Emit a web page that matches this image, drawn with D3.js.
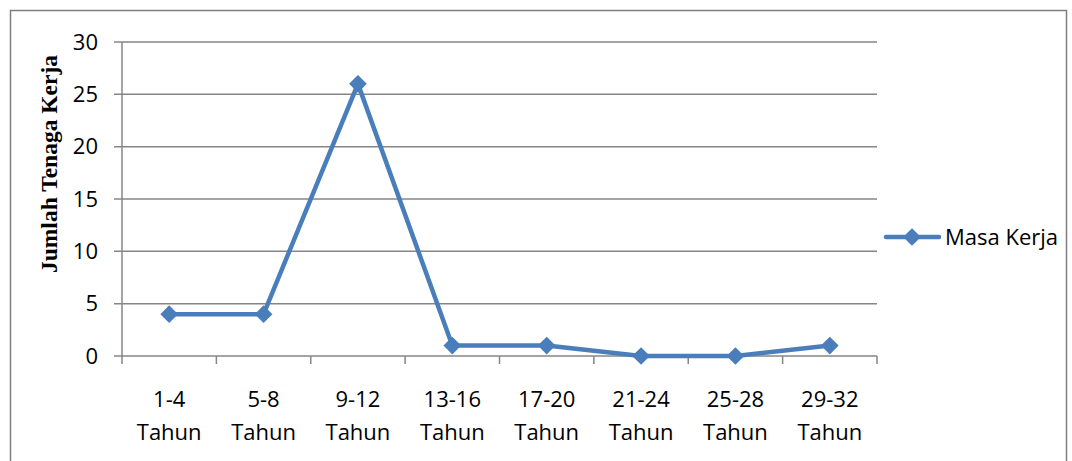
<!DOCTYPE html>
<html>
<head>
<meta charset="utf-8">
<script src="https://cdn.jsdelivr.net/npm/d3@7"></script>
<style>
  html, body { margin: 0; padding: 0; background: #fff; }
  svg { display: block; }
</style>
</head>
<body>
<svg id="chart" width="1072" height="461"></svg>
<script>
// Work-period categories (two-line labels) and the number of workers in each
const categories = ["1-4 Tahun", "5-8 Tahun", "9-12 Tahun", "13-16 Tahun", "17-20 Tahun", "21-24 Tahun", "25-28 Tahun", "29-32 Tahun"];
const values = [4, 4, 26, 1, 1, 0, 0, 1];
const yTicks = [0, 5, 10, 15, 20, 25, 30];
const seriesName = "Masa Kerja";
const yTitle = "Jumlah Tenaga Kerja";

const svg = d3.select("#chart");
const plot = { left: 122, right: 877, top: 42, bottom: 356 };
const lineColor = "#4a7ebb";
const gridColor = "#868686";
const labelFont = "'Open Sans', 'Noto Sans', sans-serif";
const labelSize = 22;

// Outer chart frame
svg.append("rect")
  .attr("x", 10.5).attr("y", 10.5)
  .attr("width", 1056).attr("height", 470)
  .attr("fill", "#fff").attr("stroke", "#7f7f7f").attr("stroke-width", 1.5);

const x = d3.scaleBand().domain(categories).range([plot.left, plot.right]).padding(0);
const y = d3.scaleLinear().domain([0, 30]).range([plot.bottom, plot.top]);

// Horizontal gridlines
svg.append("g").selectAll("line").data(yTicks).join("line")
  .attr("x1", plot.left - 8).attr("x2", plot.right)
  .attr("y1", d => y(d)).attr("y2", d => y(d))
  .attr("stroke", gridColor).attr("stroke-width", 1.5);

// Y axis line
svg.append("line")
  .attr("x1", plot.left).attr("x2", plot.left)
  .attr("y1", plot.top).attr("y2", plot.bottom)
  .attr("stroke", gridColor).attr("stroke-width", 1.5);

// Y tick labels
svg.append("g").selectAll("text").data(yTicks).join("text")
  .attr("x", 98).attr("y", d => y(d))
  .attr("dy", "0.35em")
  .attr("text-anchor", "end")
  .attr("font-family", labelFont).attr("font-size", labelSize)
  .attr("fill", "#000")
  .text(d => d);

// X category tick marks at band boundaries
const bounds = categories.map(c => x(c)).concat([plot.right]);
svg.append("g").selectAll("line").data(bounds).join("line")
  .attr("x1", d => d).attr("x2", d => d)
  .attr("y1", plot.bottom).attr("y2", plot.bottom + 8)
  .attr("stroke", gridColor).attr("stroke-width", 1.5);

// X category labels, split on the space into two lines
const xl = svg.append("g").selectAll("text").data(categories).join("text")
  .attr("text-anchor", "middle")
  .attr("font-family", labelFont).attr("font-size", labelSize)
  .attr("fill", "#000");
xl.each(function(d) {
  const parts = d.split(" ");
  const cx = x(d) + x.bandwidth() / 2;
  d3.select(this).selectAll("tspan").data(parts).join("tspan")
    .attr("x", cx)
    .attr("y", (p, i) => 407 + i * 33)
    .text(p => p);
});

// Y axis title
svg.append("text")
  .attr("transform", `translate(57,164) rotate(-90)`)
  .attr("text-anchor", "middle")
  .attr("font-family", "'Liberation Serif', 'DejaVu Serif', serif")
  .attr("font-weight", "bold").attr("font-size", 23.5)
  .attr("fill", "#000")
  .text(yTitle);

// Series line
const line = d3.line()
  .x((d, i) => x(categories[i]) + x.bandwidth() / 2)
  .y(d => y(d));
svg.append("path")
  .datum(values)
  .attr("d", line)
  .attr("fill", "none")
  .attr("stroke", lineColor).attr("stroke-width", 4.5)
  .attr("stroke-linejoin", "round").attr("stroke-linecap", "round");

// Diamond markers
const diamond = d3.symbol().type(d3.symbolDiamond2).size(200);
svg.append("g").selectAll("path").data(values).join("path")
  .attr("transform", (d, i) => `translate(${x(categories[i]) + x.bandwidth() / 2},${y(d)})`)
  .attr("d", diamond)
  .attr("fill", lineColor);

// Legend
const ly = 237;
const lg = svg.append("g");
lg.append("line")
  .attr("x1", 886).attr("x2", 939)
  .attr("y1", ly).attr("y2", ly)
  .attr("stroke", lineColor).attr("stroke-width", 4.5).attr("stroke-linecap", "round");
lg.append("path")
  .attr("transform", `translate(912,${ly})`)
  .attr("d", diamond)
  .attr("fill", lineColor);
lg.append("text")
  .attr("x", 945).attr("y", ly).attr("dy", "0.35em")
  .attr("font-family", labelFont).attr("font-size", labelSize)
  .attr("fill", "#000")
  .text(seriesName);
</script>
</body>
</html>
